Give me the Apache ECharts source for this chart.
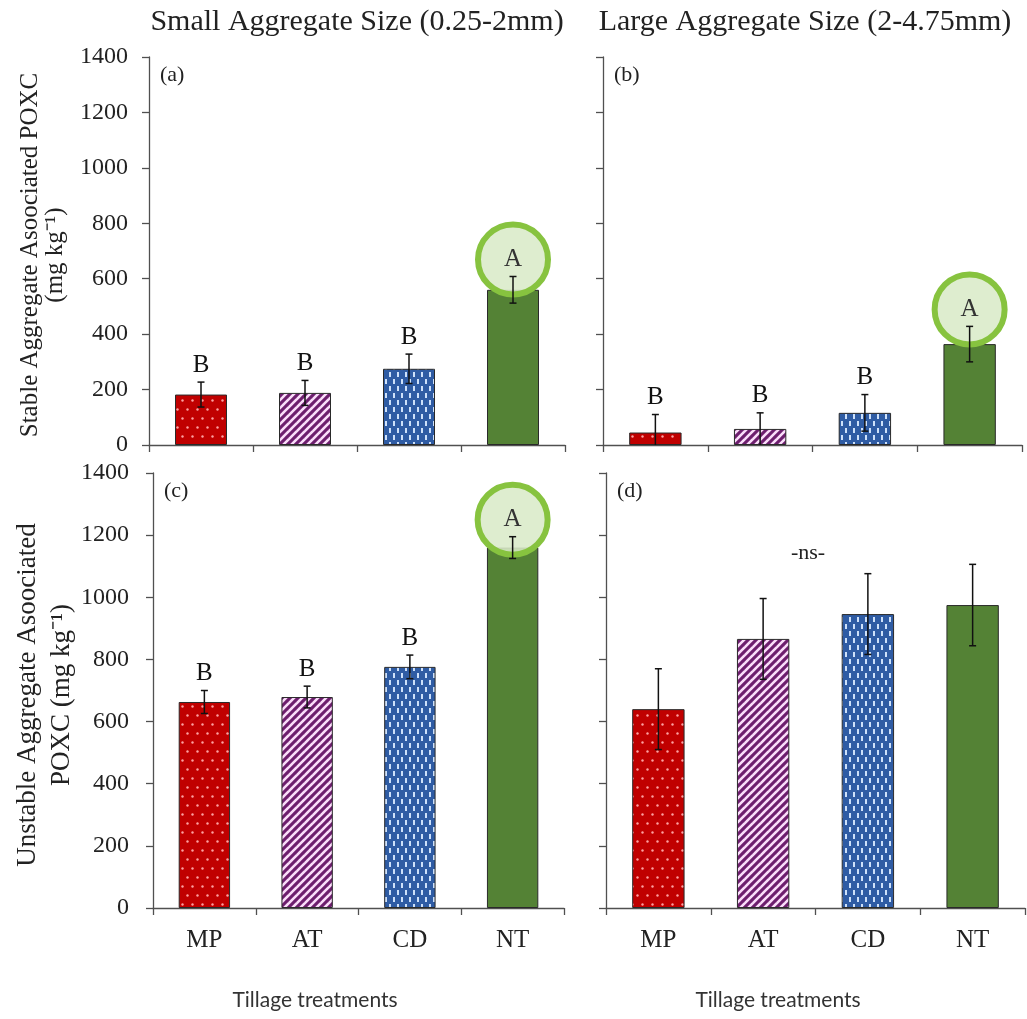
<!DOCTYPE html>
<html><head><meta charset="utf-8">
<script src="https://cdn.jsdelivr.net/npm/echarts@6/dist/echarts.min.js"></script>
<style>html,body{margin:0;padding:0;background:#fff}#c{width:1027px;height:1019px}</style>
</head><body><div id="c"></div>
<script>
// ---------- data ----------
const categories = ['MP', 'AT', 'CD', 'NT'];
const stableSmall = [182, 188, 275, 560];
const stableSmallErr = [45, 45, 53, 48];
const stableSmallLetters = ['B', 'B', 'B', 'A'];
const stableLarge = [45, 58, 116, 364];
const stableLargeErr = [65, 58, 66, 64];
const stableLargeLetters = ['B', 'B', 'B', 'A'];
const unstableSmall = [663, 679, 776, 1160];
const unstableSmallErr = [37, 35, 38, 35];
const unstableSmallLetters = ['B', 'B', 'B', 'A'];
const unstableLarge = [640, 866, 946, 975];
const unstableLargeErr = [130, 130, 130, 131];
const unstableLargeLetters = ['', '', '', ''];
const yMin = 0, yMax = 1400, yStep = 200;
const panelTags = ['(a)', '(b)', '(c)', '(d)'];
const colTitles = ['Small Aggregate Size (0.25-2mm)', 'Large Aggregate Size (2-4.75mm)'];
const rowNames = ['Stable Aggregate Asoociated POXC\n(mg kg\u207B\u00B9)', 'Unstable Aggregate Asoociated\nPOXC (mg kg\u207B\u00B9)'];
const xName = 'Tillage treatments';
const nsText = '-ns-';

// ---------- styles ----------
const SERIF = '"Liberation Serif", "Times New Roman", serif';
const AX = '#505050';
function tile(w, h, bg, draw) {
  const c = document.createElement('canvas'); c.width = w; c.height = h;
  const g = c.getContext('2d'); g.fillStyle = bg; g.fillRect(0, 0, w, h); draw(g);
  return { image: c, repeat: 'repeat' };
}
const patMP = tile(10, 18, '#c00000', g => {
  g.fillStyle = 'rgba(255,170,170,0.95)';
  [[2.5, 4.5], [7.5, 13.5]].forEach(p => { g.beginPath(); g.arc(p[0], p[1], 1.2, 0, Math.PI * 2); g.fill(); });
});
const patAT = tile(8, 8, '#6d1e6e', g => {
  g.strokeStyle = 'rgba(255,228,255,0.97)'; g.lineWidth = 2.6;
  [[-1, 9, 9, -1], [-1, 1, 1, -1], [7, 9, 9, 7]].forEach(l => { g.beginPath(); g.moveTo(l[0], l[1]); g.lineTo(l[2], l[3]); g.stroke(); });
});
const patCD = tile(8, 14, '#2f5ca4', g => {
  g.fillStyle = 'rgba(215,232,255,0.95)';
  g.fillRect(1, 1, 2, 5); g.fillRect(5, 8, 2, 5);
});
const barColors = [patMP, patAT, patCD, '#548235'];

const grids = [
  { left: 149, top: 57, width: 416, height: 388 },
  { left: 603, top: 57, width: 419, height: 388 },
  { left: 153, top: 473, width: 411, height: 435 },
  { left: 606, top: 473, width: 419, height: 435 }
];
const panelData = [
  [stableSmall, stableSmallErr, stableSmallLetters],
  [stableLarge, stableLargeErr, stableLargeLetters],
  [unstableSmall, unstableSmallErr, unstableSmallLetters],
  [unstableLarge, unstableLargeErr, unstableLargeLetters]
];

const xAxis = [], yAxis = [], series = [];
panelData.forEach((pd, i) => {
  const [vals, errs, letters] = pd;
  xAxis.push({
    type: 'category', gridIndex: i, data: categories,
    axisLine: { show: true, lineStyle: { color: AX, width: 1.3 } },
    axisTick: { show: true, alignWithLabel: false, length: 7, interval: 0, lineStyle: { color: AX, width: 1.3 } },
    axisLabel: { show: i >= 2, fontFamily: SERIF, fontSize: 25, color: '#222', margin: 20 },
    splitLine: { show: false }
  });
  yAxis.push({
    type: 'value', gridIndex: i, min: yMin, max: yMax, interval: yStep,
    axisLine: { show: true, lineStyle: { color: AX, width: 1.3 } },
    axisTick: { show: true, length: 7, lineStyle: { color: AX, width: 1.3 } },
    axisLabel: { show: i % 2 === 0, fontFamily: SERIF, fontSize: 24, color: '#222', margin: i < 2 ? 21 : 24,
      formatter: v => String(v) },
    splitLine: { show: false }
  });
  series.push({
    type: 'bar', xAxisIndex: i, yAxisIndex: i, barWidth: '50%', z: 2,
    data: vals.map((v, k) => ({ value: v, itemStyle: { color: barColors[k] } })),
    itemStyle: { borderColor: '#2a2a2a', borderWidth: 1 }
  });
  // significance circle (under error bar)
  series.push({
    type: 'custom', xAxisIndex: i, yAxisIndex: i, z: 3,
    data: vals.map((v, k) => [k, v, errs[k]]),
    renderItem: (params, api) => {
      const L = letters[params.dataIndex];
      if (L !== 'A') return;
      const p = api.coord([api.value(0), api.value(1) + api.value(2)]);
      return { type: 'circle', shape: { cx: p[0], cy: p[1] - 17, r: 35 },
        style: { fill: 'rgba(218,234,200,0.88)', stroke: '#87c33f', lineWidth: 6 } };
    }
  });
  // error bars (clipped at axis minimum)
  series.push({
    type: 'custom', xAxisIndex: i, yAxisIndex: i, z: 4,
    data: vals.map((v, k) => [k, v, errs[k]]),
    renderItem: (params, api) => {
      const x = api.value(0), v = api.value(1), e = api.value(2);
      const lo = Math.max(yMin, v - e);
      const t = api.coord([x, v + e]), b = api.coord([x, lo]);
      const st = { stroke: '#111', lineWidth: 1.5 };
      const ch = [
        { type: 'line', shape: { x1: t[0], y1: t[1], x2: b[0], y2: b[1] }, style: st },
        { type: 'line', shape: { x1: t[0] - 3.5, y1: t[1], x2: t[0] + 3.5, y2: t[1] }, style: st }
      ];
      if (v - e > yMin) ch.push({ type: 'line', shape: { x1: b[0] - 3.5, y1: b[1], x2: b[0] + 3.5, y2: b[1] }, style: st });
      return { type: 'group', children: ch };
    }
  });
  // letters
  series.push({
    type: 'custom', xAxisIndex: i, yAxisIndex: i, z: 5,
    data: vals.map((v, k) => [k, v, errs[k]]),
    renderItem: (params, api) => {
      const L = letters[params.dataIndex];
      if (!L) return;
      const p = api.coord([api.value(0), api.value(1) + api.value(2)]);
      return { type: 'text', x: p[0], y: p[1] - 17,
        style: { text: L, fontFamily: SERIF, fontSize: 25, fill: L === 'A' ? '#333' : '#111', align: 'center', verticalAlign: 'middle' } };
    }
  });
});

const graphic = [];
colTitles.forEach((t, k) => graphic.push({ type: 'text', x: k === 0 ? 357 : 805, y: 22,
  style: { text: t, fontFamily: SERIF, fontSize: 30, fill: '#222', align: 'center', verticalAlign: 'middle' } }));
panelTags.forEach((t, k) => graphic.push({ type: 'text', x: grids[k].left + 11, y: grids[k].top + 18,
  style: { text: t, fontFamily: SERIF, fontSize: 22, fill: '#222', align: 'left', verticalAlign: 'middle' } }));
graphic.push({ type: 'text', x: 43, y: 255, rotation: Math.PI / 2,
  style: { text: rowNames[0], fontFamily: SERIF, fontSize: 25, lineHeight: 25, fill: '#222', align: 'center', verticalAlign: 'middle' } });
graphic.push({ type: 'text', x: 45, y: 695, rotation: Math.PI / 2,
  style: { text: rowNames[1], fontFamily: SERIF, fontSize: 27, lineHeight: 34, fill: '#222', align: 'center', verticalAlign: 'middle' } });
[315, 778].forEach(x => graphic.push({ type: 'text', x: x, y: 1000,
  style: { text: xName, fontFamily: 'Lato, sans-serif', fontSize: 21, fill: '#333', align: 'center', verticalAlign: 'middle' } }));
graphic.push({ type: 'text', x: 808, y: 553,
  style: { text: nsText, fontFamily: SERIF, fontSize: 22, fill: '#222', align: 'center', verticalAlign: 'middle' } });

const chart = echarts.init(document.getElementById('c'), null, { renderer: 'canvas' });
chart.setOption({
  animation: false, backgroundColor: '#fff',
  grid: grids, xAxis: xAxis, yAxis: yAxis, series: series, graphic: graphic
});
</script></body></html>
